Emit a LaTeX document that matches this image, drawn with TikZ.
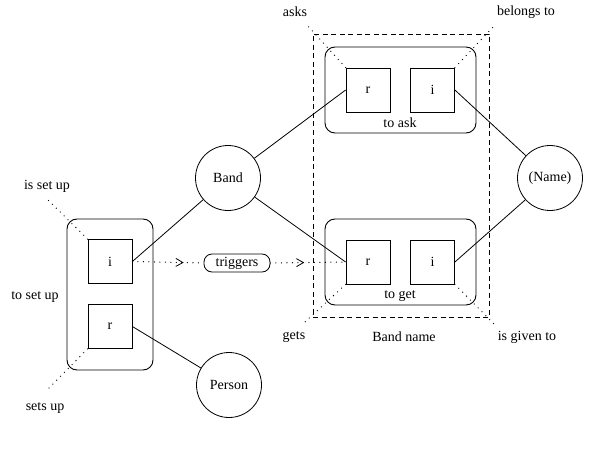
\documentclass[tikz,border=0pt]{standalone}
\usepackage{fontspec}
\setmainfont{Liberation Serif}
\usetikzlibrary{arrows.meta,decorations.markings}
\begin{document}
\begin{tikzpicture}[x=1pt,y=-1pt,
  font=\fontsize{14}{16}\selectfont,
  rolebox/.style={draw,line width=0.8pt,minimum width=44pt,minimum height=44pt,inner sep=0pt},
  frame/.style={draw,line width=0.9pt,rounded corners=10pt,inner sep=0pt},
  entity/.style={draw,circle,line width=0.8pt,minimum size=65pt,inner sep=0pt},
  link/.style={line width=0.8pt},
  dots/.style={line width=1.3pt,line cap=round,dash pattern=on 0pt off 5.5pt},
  boundary/.style={line width=0.8pt,dash pattern=on 5pt off 3.5pt},
  pill/.style={draw,line width=0.8pt,rounded corners=8pt,minimum width=66pt,minimum height=18pt,inner sep=2pt},
  midarrow/.style={postaction={decorate,decoration={markings,
      mark=at position #1 with {\arrow[line width=0.8pt]{Straight Barb[length=7pt,width=8pt]}}}}}
]
\useasboundingbox (0,0) rectangle (600,460);

% object types
\node[entity] (band)   at (228,178) {Band};
\node[entity] (person) at (229,385) {Person};
\node[entity] (name)   at (550,178) {(Name)};

% fact type "to set up"
\node[frame,minimum width=86pt,minimum height=151pt] (setup) at (110,294.5) {};
\node[rolebox] (si) at (110,261.5) {i};
\node[rolebox] (sr) at (110,326.5) {r};

% fact type "to ask"
\node[frame,minimum width=151pt,minimum height=86pt] (ask) at (400.5,90) {};
\node[rolebox] (ar) at (368,90) {r};
\node[rolebox] (ai) at (432.5,90) {i};

% fact type "to get"
\node[frame,minimum width=151pt,minimum height=86pt] (get) at (400.5,262) {};
\node[rolebox] (gr) at (368,262) {r};
\node[rolebox] (gi) at (432.5,262) {i};

% objectified boundary "Band name"
\node[boundary,draw,minimum width=176pt,minimum height=283pt,inner sep=0pt] (bandname) at (401,175.5) {};

% trigger
\node[pill] (trig) at (237,263) {triggers};

% fact type names
\node (lsetup) at (35,297) {to set up};
\node (lask)   at (400,123) {to ask};
\node (lget)   at (400,296) {to get};
\node (lbn)    at (404,337) {Band name};

% role readings
\node (t1) at (47,186)  {is set up};
\node (t2) at (45,408)  {sets up};
\node (t3) at (295,12)  {asks};
\node (t4) at (526,12)  {belongs to};
\node (t5) at (294,337) {gets};
\node (t6) at (527,337) {is given to};

\coordinate (c1) at (46,198);
\coordinate (c2) at (47,390);
\coordinate (c3) at (307,25);
\coordinate (c4) at (495,25);
\coordinate (c5) at (305,322);
\coordinate (c6) at (495,325);

\draw[dots] (si.north west) -- (c1);
\draw[dots] (sr.south west) -- (c2);
\draw[dots] (ar.north west) -- (c3);
\draw[dots] (ai.north east) -- (c4);
\draw[dots] (gr.south west) -- (c5);
\draw[dots] (gi.south east) -- (c6);

% role connectors
\draw[link] (si.east) -- (band);
\draw[link] (sr.east) -- (person);
\draw[link] (band) -- (ar.west);
\draw[link] (band) -- (gr.west);
\draw[link] (ai.east) -- (name);
\draw[link] (gi.east) -- (name);

% trigger flow
\draw[dots,midarrow=0.72] (si.east) -- (trig.west);
\draw[dots,midarrow=0.45] (trig.east) -- (gr.west);
\end{tikzpicture}
\end{document}
